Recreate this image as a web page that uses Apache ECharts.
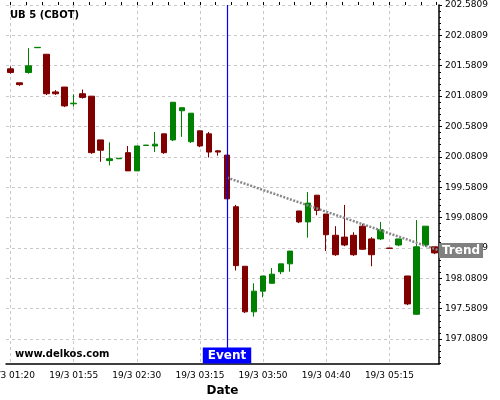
<!DOCTYPE html>
<html><head><meta charset="utf-8">
<script src="https://cdn.jsdelivr.net/npm/echarts@6/dist/echarts.min.js"></script>
<style>html,body{margin:0;padding:0;background:#fff}#c{width:500px;height:400px}</style>
</head><body><div id="c"></div>
<script>
const categories = [
  '19/3 01:20','19/3 01:25','19/3 01:30','19/3 01:35','19/3 01:40','19/3 01:45','19/3 01:50',
  '19/3 01:55','19/3 02:00','19/3 02:05','19/3 02:10','19/3 02:15','19/3 02:20','19/3 02:25',
  '19/3 02:30','19/3 02:35','19/3 02:40','19/3 02:45','19/3 02:50','19/3 02:55','19/3 03:05',
  '19/3 03:15','19/3 03:20','19/3 03:25','19/3 03:30','19/3 03:35','19/3 03:40','19/3 03:45',
  '19/3 03:50','19/3 03:55','19/3 04:00','19/3 04:05','19/3 04:10','19/3 04:20','19/3 04:30',
  '19/3 04:40','19/3 04:45','19/3 04:50','19/3 04:55','19/3 05:00','19/3 05:05','19/3 05:10',
  '19/3 05:15','19/3 05:20','19/3 05:25','19/3 05:30','19/3 05:35','19/3 05:40'
];
// [open, close, low, high]
const candles = [
  [201.53, 201.47, 201.45, 201.57],
  [201.30, 201.27, 201.25, 201.30],
  [201.47, 201.58, 201.45, 201.87],
  [201.878, 201.884, 201.876, 201.886],
  [201.77, 201.12, 201.10, 201.77],
  [201.15, 201.12, 201.10, 201.18],
  [201.23, 200.92, 200.90, 201.23],
  [200.955, 200.965, 200.91, 201.11],
  [201.12, 201.06, 201.04, 201.19],
  [201.08, 200.15, 200.13, 201.08],
  [200.36, 200.19, 200.00, 200.36],
  [200.02, 200.05, 199.94, 200.32],
  [200.050, 200.058, 200.050, 200.058],
  [200.15, 199.85, 199.85, 200.26],
  [199.85, 200.26, 199.85, 200.26],
  [200.268, 200.275, 200.268, 200.275],
  [200.26, 200.29, 200.16, 200.49],
  [200.46, 200.15, 200.13, 200.46],
  [200.36, 200.98, 200.34, 200.98],
  [200.84, 200.89, 200.41, 200.89],
  [200.33, 200.80, 200.31, 200.80],
  [200.51, 200.26, 200.24, 200.51],
  [200.46, 200.16, 200.07, 200.49],
  [200.18, 200.16, 200.10, 200.19],
  [200.11, 199.39, 199.39, 200.11],
  [199.26, 198.29, 198.21, 199.29],
  [198.28, 197.53, 197.51, 198.28],
  [197.53, 197.87, 197.45, 198.00],
  [197.87, 198.12, 197.77, 198.12],
  [198.00, 198.15, 198.00, 198.25],
  [198.19, 198.32, 198.15, 198.32],
  [198.32, 198.53, 198.19, 198.53],
  [199.19, 199.01, 198.99, 199.19],
  [199.01, 199.32, 198.75, 199.50],
  [199.45, 199.20, 199.12, 199.45],
  [199.14, 198.80, 198.53, 199.14],
  [198.79, 198.47, 198.45, 198.94],
  [198.76, 198.63, 198.61, 199.29],
  [198.79, 198.47, 198.45, 198.84],
  [198.94, 198.56, 198.55, 198.98],
  [198.73, 198.47, 198.28, 198.76],
  [198.73, 198.88, 198.71, 199.01],
  [198.580, 198.574, 198.574, 198.580],
  [198.63, 198.73, 198.61, 198.73],
  [198.12, 197.66, 197.64, 198.12],
  [197.49, 198.60, 197.48, 199.04],
  [198.63, 198.94, 198.60, 198.94],
  [198.60, 198.50, 198.48, 198.60]
];
const yMajorTicks = [197.0809, 197.5809, 198.0809, 198.5809, 199.0809, 199.5809,
  200.0809, 200.5809, 201.0809, 201.5809, 202.0809, 202.5809];
const yMinorTicks = [196.6809, 196.7809, 196.8809, 196.9809,
  197.1809, 197.2809, 197.3809, 197.4809, 197.6809, 197.7809, 197.8809, 197.9809,
  198.1809, 198.2809, 198.3809, 198.4809, 198.6809, 198.7809, 198.8809, 198.9809,
  199.1809, 199.2809, 199.3809, 199.4809, 199.6809, 199.7809, 199.8809, 199.9809,
  200.1809, 200.2809, 200.3809, 200.4809, 200.6809, 200.7809, 200.8809, 200.9809,
  201.1809, 201.2809, 201.3809, 201.4809, 201.6809, 201.7809, 201.8809, 201.9809,
  202.1809, 202.2809, 202.3809, 202.4809];
const xTickValues = [0, 1.75, 3.5, 5.25, 7, 8.75, 10.5, 12.25, 14, 15.75, 17.5, 19.25,
  21, 22.75, 24.5, 26.25, 28, 29.75, 31.5, 33.25, 35, 36.75, 38.5, 40.25, 42, 43.75, 45.5, 47.25];
const xGridValues = [0, 7, 14, 21, 28, 35, 42];
const eventCategory = '19/3 03:30';
const trendPoints = [[24, 199.74], [47.5, 198.54]];
const yMin = 196.671, yMax = 202.5809;
const xMin = -0.5, xMax = 47.5;

const FONT = 'DejaVu Sans';
const chart = echarts.init(document.getElementById('c'), null, {renderer: 'canvas'});
const gridLine = {show: true, lineStyle: {color: '#c8c8c8', type: [3, 3], width: 1}};
const option = {
  animation: false,
  backgroundColor: '#fff',
  textStyle: {fontFamily: FONT},
  title: [
    {text: 'UB 5 (CBOT)', left: 10, top: 10, padding: 0,
     textStyle: {fontSize: 10, fontWeight: 'bold', color: '#000', fontFamily: FONT}},
    {text: 'www.delkos.com', left: 15, top: 349, padding: 0,
     textStyle: {fontSize: 10, fontWeight: 'bold', color: '#000', fontFamily: FONT}}
  ],
  grid: {left: 6, right: 61, top: 5, bottom: 36, containLabel: false, outerBoundsMode: 'none'},
  xAxis: [
    {type: 'category', data: categories, boundaryGap: true,
     axisLine: {show: true, onZero: false, lineStyle: {color: '#000', width: 1.5}},
     axisTick: {show: false},
     axisLabel: {interval: 6, color: '#000', fontSize: 9, fontFamily: FONT, margin: 7},
     splitLine: {show: false},
     name: 'Date', nameLocation: 'middle', nameGap: 21,
     nameTextStyle: {fontSize: 12, fontWeight: 'bold', color: '#000', fontFamily: FONT}},
    {type: 'value', min: xMin, max: xMax,
     axisLine: {show: false, onZero: false}, axisLabel: {show: false}, splitLine: {show: false},
     axisTick: {show: true, customValues: xTickValues, length: 3, lineStyle: {color: '#000'}}},
    {type: 'value', min: xMin, max: xMax,
     axisLine: {show: false, onZero: false}, axisLabel: {show: false},
     axisTick: {show: false, customValues: xGridValues}, splitLine: gridLine}
  ],
  yAxis: [
    {type: 'value', position: 'right', min: yMin, max: yMax,
     axisLine: {show: true, onZero: false, lineStyle: {color: '#000', width: 1.5}},
     axisTick: {show: true, customValues: yMajorTicks, length: 3, lineStyle: {color: '#000'}},
     axisLabel: {customValues: yMajorTicks, formatter: v => Number(v).toFixed(4),
                 color: '#000', fontSize: 9, fontFamily: FONT, margin: 6},
     splitLine: gridLine},
    {type: 'value', position: 'right', min: yMin, max: yMax,
     axisLine: {show: false, onZero: false}, axisLabel: {show: false}, splitLine: {show: false},
     axisTick: {show: true, customValues: yMinorTicks, length: 2, lineStyle: {color: '#000'}}}
  ],
  series: [
    {type: 'candlestick', xAxisIndex: 0, yAxisIndex: 0, data: candles, barWidth: 6,
     itemStyle: {color: '#008000', color0: '#800000', borderColor: '#008000', borderColor0: '#800000', borderWidth: 1},
     markLine: {symbol: ['none', 'none'], silent: true, animation: false, label: {show: false},
                lineStyle: {color: '#0000ff', width: 1.2, type: 'solid'},
                data: [{xAxis: eventCategory}]},
     markPoint: {symbol: 'rect', symbolSize: 1, silent: true, animation: false,
                 itemStyle: {color: 'rgba(0,0,0,0)'},
                 label: {show: true, position: 'top', distance: 0, formatter: 'Event',
                         backgroundColor: '#0000ff', color: '#fff', fontWeight: 'bold', fontSize: 12,
                         fontFamily: FONT, lineHeight: 14, padding: [1, 5, 1, 5]},
                 data: [{coord: [eventCategory, yMin]}]}
    },
    {type: 'line', xAxisIndex: 1, yAxisIndex: 0, data: trendPoints, symbol: 'none', silent: true,
     lineStyle: {color: '#888888', width: 2.5, type: [2, 1.5]},
     endLabel: {show: true, formatter: 'Trend', distance: 0, backgroundColor: '#808080', color: '#fff',
                fontWeight: 'bold', fontSize: 12, fontFamily: FONT, lineHeight: 14, padding: [1, 3, 0, 3]}}
  ]
};
chart.setOption(option);
</script>
</body></html>
